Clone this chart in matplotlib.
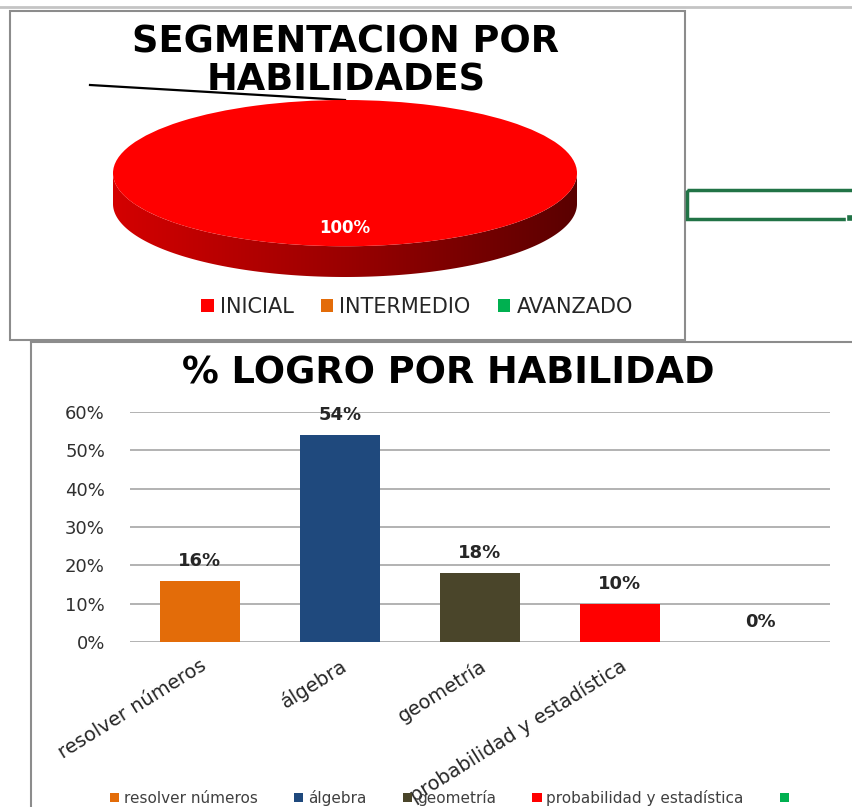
import numpy as np
import matplotlib
matplotlib.use("Agg")
import matplotlib.pyplot as plt
from matplotlib.patches import Rectangle, Polygon, Patch
from matplotlib.colors import LinearSegmentedColormap

# segmentacion (pastel)
niveles = ["INICIAL", "INTERMEDIO", "AVANZADO"]
niveles_pct = [1.0, 0.0, 0.0]
niveles_col = ["#FF0000", "#E36C09", "#00B050"]

# logro por habilidad (barras)
habilidades = ["resolver números", "álgebra", "geometría",
               "probabilidad y estadística", ""]
logro = [0.16, 0.54, 0.18, 0.10, 0.0]
hab_col = ["#E36C09", "#1F497D", "#4A452A", "#FF0000", "#00B050"]
y_ticks = [0, 0.1, 0.2, 0.3, 0.4, 0.5, 0.6]

W, H = 853, 807
plt.rcParams["font.family"] = ["DejaVu Sans"]
fig = plt.figure(figsize=(W / 100, H / 100), dpi=100)


def fx(px):
    return px / W


def fy(py):
    return 1 - py / H


# fondo de la hoja: marcos de los graficos y celda seleccionada
bg = fig.add_axes([0, 0, 1, 1], zorder=-1)
bg.set_xlim(0, W)
bg.set_ylim(H, 0)
bg.axis("off")
bg.plot([0, W], [7, 7], color="#C4C4C4", lw=2)
bg.add_patch(Rectangle((10, 11), 675, 329, fill=False, ec="#8C8C8C", lw=1.5))
bg.plot([31, W], [342, 342], color="#8C8C8C", lw=1.5)
bg.plot([31, 31], [342, H], color="#8C8C8C", lw=1.5)
bg.add_patch(Rectangle((687, 190), 175, 29, fill=False, ec="#217346", lw=2.5))
bg.add_patch(Rectangle((846, 214), 7, 7, fc="#217346", ec="white", lw=1))
bg.plot([90, 345], [85, 100], color="black", lw=1.6)

# titulo superior
fig.text(fx(346), fy(61), "SEGMENTACION POR\nHABILIDADES", ha="center",
         va="center", fontsize=26.5, fontweight="bold", linespacing=1.03)

# pastel con efecto 3D
depth = 0.42
ax_p = fig.add_axes([fx(113), fy(277), fx(464), 177 / H])
t = np.linspace(np.pi, 2 * np.pi, 200)
upper = np.column_stack([np.cos(t), np.sin(t)])
lower = upper - [0, depth]
side = Polygon(np.vstack([upper, lower[::-1]]), closed=True, fc="none", ec="none")
ax_p.add_patch(side)
side_cmap = LinearSegmentedColormap.from_list(
    "lado", ["#D40000", "#9A0000", "#5A0000"])
grad = np.linspace(0, 1, 256).reshape(1, -1)
im = ax_p.imshow(grad, extent=[-1, 1, -1 - depth, 0.05], cmap=side_cmap,
                 aspect="auto", zorder=0)
im.set_clip_path(side)
wedges, _ = ax_p.pie(niveles_pct, colors=niveles_col, startangle=90,
                     counterclock=False, wedgeprops=dict(linewidth=0))
ax_p.set_aspect("auto")
ax_p.set_xlim(-1, 1)
ax_p.set_ylim(-1 - depth, 1)
ax_p.axis("off")
ax_p.text(0, -0.75, f"{niveles_pct[0]:.0%}", color="white", fontsize=12,
          fontweight="bold", ha="center", va="center")

fig.legend([Patch(fc=c) for c in niveles_col], niveles, loc="center",
           bbox_to_anchor=(fx(417), fy(307)), ncol=3, frameon=False,
           fontsize=15, handlelength=0.6, handleheight=0.6,
           handletextpad=0.3, columnspacing=1.3, labelcolor="#262626")

# grafico de barras
fig.text(fx(448), fy(373), "% LOGRO POR HABILIDAD", ha="center", va="center",
         fontsize=26.5, fontweight="bold")

ax = fig.add_axes([fx(130), fy(642), fx(700), 230 / H])
ax.set_facecolor("none")
x = np.arange(len(habilidades))
bars = ax.bar(x, logro, width=0.57, color=hab_col, zorder=2)
for xi, v in zip(x, logro):
    ax.annotate(f"{v:.0%}", (xi, v), xytext=(0, 8), textcoords="offset points",
                ha="center", va="bottom", fontsize=13, fontweight="bold",
                color="#262626")
ax.set_xlim(-0.5, len(habilidades) - 0.5)
ax.set_ylim(0, 0.6)
ax.set_yticks(y_ticks)
ax.set_yticklabels([f"{v:.0%}" for v in y_ticks], fontsize=13, color="#303030")
ax.yaxis.grid(True, color="#A6A6A6", lw=1.2, zorder=0)
ax.set_axisbelow(True)
ax.set_xticks(x)
ax.set_xticklabels(habilidades, rotation=32, ha="right", rotation_mode="anchor",
                   fontsize=14, color="#262626")
ax.tick_params(axis="y", length=0, pad=18)
ax.tick_params(axis="x", length=0, pad=10)
for s in ax.spines.values():
    s.set_visible(False)

fig.legend([Patch(fc=c) for c in hab_col], habilidades, loc="center",
           bbox_to_anchor=(fx(452), fy(798)), ncol=5, frameon=False,
           fontsize=11, handlelength=0.6, handleheight=0.6,
           handletextpad=0.3, columnspacing=2.4, labelcolor="#404040",
           borderpad=0.1)

fig.savefig("out.png", dpi=100)
